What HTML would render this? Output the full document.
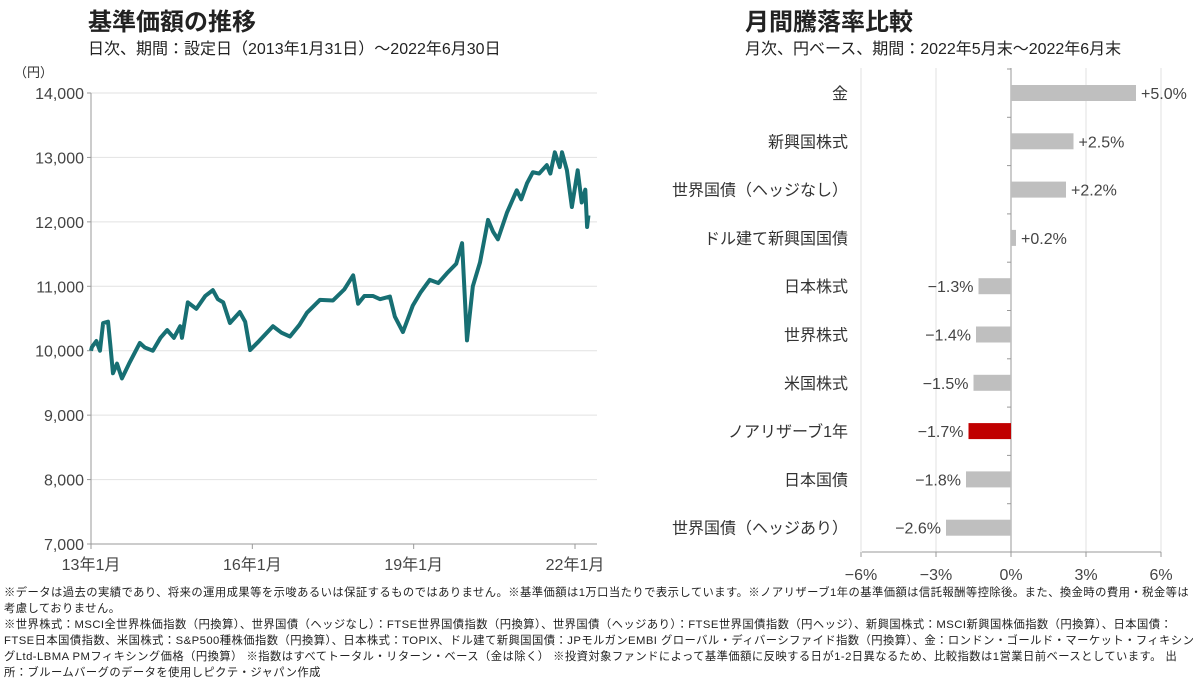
<!DOCTYPE html>
<html><head><meta charset="utf-8">
<style>
body{margin:0;background:#fff;width:1200px;height:682px;overflow:hidden;font-family:"Liberation Sans","Noto Sans CJK JP",sans-serif;color:#222}
svg{position:absolute;left:0;top:0}
.foot{position:absolute;left:4px;top:585px;width:1194px;font-size:11.3px;line-height:16px;color:#222;letter-spacing:0.45px}
</style></head><body>
<svg width="1200" height="590" id="svg" font-family="Liberation Sans, Noto Sans CJK JP, sans-serif">
<text x="88" y="30" font-size="24" font-weight="bold" fill="#222">基準価額の推移</text>
<text x="88" y="54" font-size="16" fill="#222">日次、期間：設定日（2013年1月31日）～2022年6月30日</text>
<text x="14" y="77" font-size="13" fill="#333">（円）</text>
<text x="745" y="30" font-size="24" font-weight="bold" fill="#222">月間騰落率比較</text>
<text x="745" y="54" font-size="16" fill="#222">月次、円ベース、期間：2022年5月末～2022年6月末</text>
<g id="left"></g><g id="right"></g>
</svg>
<div class="foot">※データは過去の実績であり、将来の運用成果等を示唆あるいは保証するものではありません。※基準価額は1万口当たりで表示しています。※ノアリザーブ1年の基準価額は信託報酬等控除後。また、換金時の費用・税金等は考慮しておりません。<br>※世界株式：MSCI全世界株価指数（円換算）、世界国債（ヘッジなし）：FTSE世界国債指数（円換算）、世界国債（ヘッジあり）：FTSE世界国債指数（円ヘッジ）、新興国株式：MSCI新興国株価指数（円換算）、日本国債：FTSE日本国債指数、米国株式：S&amp;P500種株価指数（円換算）、日本株式：TOPIX、ドル建て新興国国債：JPモルガンEMBI グローバル・ディバーシファイド指数（円換算）、金：ロンドン・ゴールド・マーケット・フィキシングLtd-LBMA PMフィキシング価格（円換算） ※指数はすべてトータル・リターン・ベース（金は除く） ※投資対象ファンドによって基準価額に反映する日が1-2日異なるため、比較指数は1営業日前ベースとしています。 出所：ブルームバーグのデータを使用しピクテ・ジャパン作成</div>
<script>
const months=[0,0.2,1.2,2.0,2.7,3.8,4.3,4.9,5.8,6.9,8.5,10.9,12.0,13.8,15.5,17,18.5,19.9,20.3,21.6,23.5,25.5,27.2,28.3,29.5,31,33.2,34.4,35.5,37.5,40.6,42.5,44.4,46.5,48.2,51.1,54,56.5,58.5,59.6,61.0,62.9,64.5,66.7,67.8,69.6,71.8,73.5,75.6,77.5,79.4,81.5,82.8,83.9,85.2,86.8,88.6,89.7,90.8,92.8,95,96.0,97.3,98.6,100.0,101.7,102.5,103.5,104.6,105.1,106.2,107.3,108.6,109.5,110.3,110.7,111];
const prices=[10000,10056,10150,10000,10430,10450,10100,9650,9800,9570,9800,10120,10050,10000,10200,10320,10200,10380,10200,10750,10650,10850,10940,10800,10750,10430,10600,10450,10010,10150,10380,10280,10220,10400,10590,10790,10780,10950,11170,10730,10850,10850,10800,10840,10530,10290,10700,10900,11100,11050,11200,11350,11670,10160,11000,11370,12030,11850,11730,12140,12490,12350,12600,12770,12750,12880,12750,13080,12850,13080,12800,12230,12800,12300,12500,11920,12100];
const yTicks=[7000,8000,9000,10000,11000,12000,13000,14000];
const xTickLabels=["13年1月","16年1月","19年1月","22年1月"];
const xTickMonths=[0,36,72,108];
const cats=["金","新興国株式","世界国債（ヘッジなし）","ドル建て新興国国債","日本株式","世界株式","米国株式","ノアリザーブ1年","日本国債","世界国債（ヘッジあり）"];
const rets=[5.0,2.5,2.2,0.2,-1.3,-1.4,-1.5,-1.7,-1.8,-2.6];
const pctTicks=[-6,-3,0,3,6];
const NS="http://www.w3.org/2000/svg";
function mk(t,a,p){const e=document.createElementNS(NS,t);for(const k in a)e.setAttribute(k,a[k]);p.appendChild(e);return e;}
const L=document.getElementById('left'),R=document.getElementById('right');
const xL=m=>91+m*(575-91)/108, yL=v=>544-(v-7000)*(544-93)/7000;
yTicks.forEach(v=>{
 if(v>7000){const g=mk('line',{x1:91,x2:597,y1:yL(v),y2:yL(v),stroke:'#e2e2e2','stroke-width':1},L);}
 mk('line',{x1:87,x2:91,y1:yL(v),y2:yL(v),stroke:'#999'},L);
 const t=mk('text',{x:84,y:yL(v)+6,'font-size':16,'text-anchor':'end',fill:'#444'},L);t.textContent=v.toLocaleString('en-US');
 
 
});
let a=mk('line',{x1:91,x2:91,y1:93,y2:544,stroke:'#999'},L);
a=mk('line',{x1:91,x2:597,y1:544,y2:544,stroke:'#999'},L);
xTickMonths.forEach((m,i)=>{mk('line',{x1:xL(m),x2:xL(m),y1:544,y2:549,stroke:'#999'},L);
 const t=mk('text',{x:xL(m),y:570,'font-size':16,'text-anchor':'middle',fill:'#444'},L);t.textContent=xTickLabels[i];
 
 });
const ln=mk('polyline',{points:months.map((m,i)=>xL(m)+','+yL(prices[i])).join(' '),fill:'none',stroke:'#176f73','stroke-width':4,'stroke-linejoin':'round'},L);


// right
const x0=1011,xR=p=>x0+p*25,rowY=i=>93+i*48.3;
pctTicks.forEach(p=>{
 if(p!==0){const g=mk('line',{x1:xR(p),x2:xR(p),y1:68,y2:552,stroke:'#e2e2e2'},R);}
 mk('line',{x1:xR(p),x2:xR(p),y1:552,y2:557,stroke:'#999'},R);
 const t=mk('text',{x:xR(p),y:580,'font-size':16,'text-anchor':'middle',fill:'#444'},R);t.textContent=(p<0?'−':'')+Math.abs(p)+'%';
 
 
});
a=mk('line',{x1:862,x2:1161,y1:552,y2:552,stroke:'#999'},R);
a=mk('line',{x1:x0,x2:x0,y1:68,y2:552,stroke:'#999'},R);
for(let i=0;i<=cats.length;i++){mk('line',{x1:x0-4,x2:x0,y1:rowY(i)-24,y2:rowY(i)-24,stroke:'#999'},R);}
cats.forEach((c,i)=>{
 const y=rowY(i),v=rets[i];
 const b=mk('rect',{x:Math.min(xR(v),x0),y:y-8,width:Math.abs(xR(v)-x0),height:16,fill:c==='ノアリザーブ1年'?'#c00000':'#bfbfbf'},R);
 
 
 const t=mk('text',{x:848,y:y+6,'font-size':16,'text-anchor':'end',fill:'#333'},R);t.textContent=c;
 
 
 const vl=mk('text',{x:v>=0?xR(v)+5:xR(v)-5,y:y+6,'font-size':16,'text-anchor':v>=0?'start':'end',fill:'#444'},R);
 vl.textContent=(v>=0?'+':'−')+Math.abs(v).toFixed(1)+'%';
 
 
});
</script>
</body></html>
